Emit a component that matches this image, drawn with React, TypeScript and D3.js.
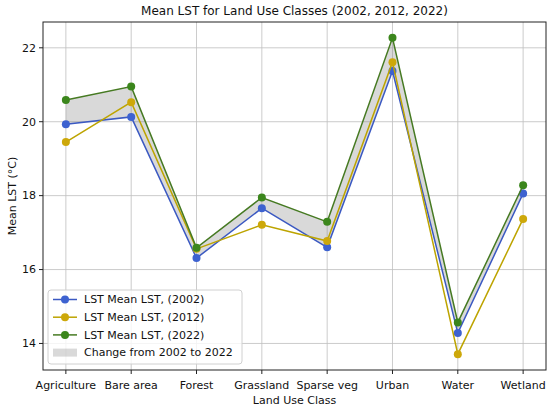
import { useEffect, useRef } from "react";
import * as d3 from "d3";

const classes = [
  "Agriculture",
  "Bare area",
  "Forest",
  "Grassland",
  "Sparse veg",
  "Urban",
  "Water",
  "Wetland",
];

const lst2002 = [19.93, 20.13, 16.31, 17.66, 16.6, 21.37, 14.28, 18.06];
const lst2012 = [19.45, 20.53, 16.56, 17.21, 16.77, 21.61, 13.71, 17.37];
const lst2022 = [20.59, 20.95, 16.59, 17.95, 17.29, 22.27, 14.57, 18.28];

const yTicks = [14, 16, 18, 20, 22];

const seriesList = [
  { label: "LST Mean LST, (2002)", values: lst2002, line: "#3b59c2", marker: "#3d62d0" },
  { label: "LST Mean LST, (2012)", values: lst2012, line: "#bda400", marker: "#cda80a" },
  { label: "LST Mean LST, (2022)", values: lst2022, line: "#467a22", marker: "#3b861c" },
];

export default function App() {
  const ref = useRef<SVGSVGElement | null>(null);

  useEffect(() => {
    if (!ref.current) return;
    const svg = d3.select(ref.current);
    svg.selectAll("*").remove();

    const width = 550;
    const height = 410;
    const margin = { top: 22, right: 4, bottom: 40, left: 43 };
    const font = "DejaVu Sans, sans-serif";

    const all = [...lst2002, ...lst2012, ...lst2022];
    const lo = d3.min(all) ?? 0;
    const hi = d3.max(all) ?? 1;
    const pad = (hi - lo) * 0.05;

    const x = d3
      .scaleLinear()
      .domain([-0.35, classes.length - 1 + 0.35])
      .range([margin.left, width - margin.right]);

    const y = d3
      .scaleLinear()
      .domain([lo - pad, hi + pad])
      .range([height - margin.bottom, margin.top]);

    svg.append("rect").attr("width", width).attr("height", height).attr("fill", "#fff");

    // MARK: grid
    const grid = svg.append("g").attr("stroke", "#b0b0b0").attr("stroke-width", 0.8).attr("opacity", 0.8);
    classes.forEach((_, i) => {
      grid
        .append("line")
        .attr("x1", x(i))
        .attr("x2", x(i))
        .attr("y1", margin.top)
        .attr("y2", height - margin.bottom);
    });
    yTicks.forEach((t) => {
      grid
        .append("line")
        .attr("x1", margin.left)
        .attr("x2", width - margin.right)
        .attr("y1", y(t))
        .attr("y2", y(t));
    });

    // MARK: fill between 2002 and 2022
    const area = d3
      .area<number>()
      .x((_, i) => x(i))
      .y0((_, i) => y(lst2002[i]))
      .y1((d) => y(d));

    svg
      .append("path")
      .attr("d", area(lst2022) || "")
      .attr("fill", "#808080")
      .attr("fill-opacity", 0.3);

    // MARK: lines
    const line = d3
      .line<number>()
      .x((_, i) => x(i))
      .y((d) => y(d));

    seriesList.forEach((s) => {
      svg
        .append("path")
        .attr("d", line(s.values) || "")
        .attr("fill", "none")
        .attr("stroke", s.line)
        .attr("stroke-width", 1.5);
      s.values.forEach((v, i) => {
        svg
          .append("circle")
          .attr("cx", x(i))
          .attr("cy", y(v))
          .attr("r", 4)
          .attr("fill", s.marker);
      });
    });

    // MARK: frame and ticks
    svg
      .append("rect")
      .attr("x", margin.left)
      .attr("y", margin.top)
      .attr("width", width - margin.right - margin.left)
      .attr("height", height - margin.bottom - margin.top)
      .attr("fill", "none")
      .attr("stroke", "#222")
      .attr("stroke-width", 1);

    classes.forEach((c, i) => {
      svg
        .append("line")
        .attr("x1", x(i))
        .attr("x2", x(i))
        .attr("y1", height - margin.bottom)
        .attr("y2", height - margin.bottom + 4)
        .attr("stroke", "#222");
      svg
        .append("text")
        .attr("x", x(i))
        .attr("y", height - margin.bottom + 15)
        .attr("dy", "0.35em")
        .attr("text-anchor", "middle")
        .attr("font-family", font)
        .attr("font-size", 11)
        .attr("fill", "#111")
        .text(c);
    });

    yTicks.forEach((t) => {
      svg
        .append("line")
        .attr("x1", margin.left - 4)
        .attr("x2", margin.left)
        .attr("y1", y(t))
        .attr("y2", y(t))
        .attr("stroke", "#222");
      svg
        .append("text")
        .attr("x", margin.left - 7)
        .attr("y", y(t))
        .attr("dy", "0.35em")
        .attr("text-anchor", "end")
        .attr("font-family", font)
        .attr("font-size", 11)
        .attr("fill", "#111")
        .text(t);
    });

    // MARK: titles
    svg
      .append("text")
      .attr("x", (margin.left + width - margin.right) / 2)
      .attr("y", 11)
      .attr("dy", "0.35em")
      .attr("text-anchor", "middle")
      .attr("font-family", font)
      .attr("font-size", 12)
      .attr("fill", "#111")
      .text("Mean LST for Land Use Classes (2002, 2012, 2022)");

    svg
      .append("text")
      .attr("x", (margin.left + width - margin.right) / 2)
      .attr("y", 400)
      .attr("dy", "0.35em")
      .attr("text-anchor", "middle")
      .attr("font-family", font)
      .attr("font-size", 11)
      .attr("fill", "#111")
      .text("Land Use Class");

    svg
      .append("text")
      .attr("transform", `translate(12,${(margin.top + height - margin.bottom) / 2}) rotate(-90)`)
      .attr("dy", "0.35em")
      .attr("text-anchor", "middle")
      .attr("font-family", font)
      .attr("font-size", 11)
      .attr("fill", "#111")
      .text("Mean LST (°C)");

    // MARK: legend
    const lg = svg.append("g").attr("transform", "translate(48,290)");
    lg.append("rect")
      .attr("width", 194)
      .attr("height", 74)
      .attr("rx", 3)
      .attr("fill", "#fff")
      .attr("fill-opacity", 0.8)
      .attr("stroke", "#d0d0d0");

    const rowY = (i: number) => 9.5 + i * 17.7;
    seriesList.forEach((s, i) => {
      lg.append("line")
        .attr("x1", 5)
        .attr("x2", 29)
        .attr("y1", rowY(i))
        .attr("y2", rowY(i))
        .attr("stroke", s.line)
        .attr("stroke-width", 1.5);
      lg.append("circle").attr("cx", 17).attr("cy", rowY(i)).attr("r", 4).attr("fill", s.marker);
      lg.append("text")
        .attr("x", 36)
        .attr("y", rowY(i))
        .attr("dy", "0.35em")
        .attr("font-family", font)
        .attr("font-size", 11)
        .attr("fill", "#111")
        .text(s.label);
    });
    lg.append("rect")
      .attr("x", 5)
      .attr("y", rowY(3) - 4)
      .attr("width", 24)
      .attr("height", 8)
      .attr("fill", "#808080")
      .attr("fill-opacity", 0.3);
    lg.append("text")
      .attr("x", 36)
      .attr("y", rowY(3))
      .attr("dy", "0.35em")
      .attr("font-family", font)
      .attr("font-size", 11)
      .attr("fill", "#111")
      .text("Change from 2002 to 2022");
  }, []);

  return (
    <svg
      ref={ref}
      width={550}
      height={410}
      style={{ position: "absolute", left: 0, top: 0, display: "block" }}
    />
  );
}
